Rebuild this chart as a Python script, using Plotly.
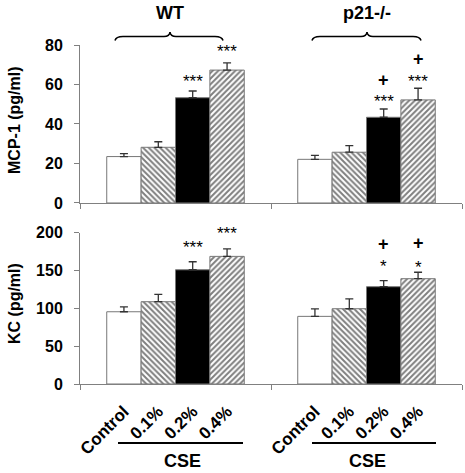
import plotly.graph_objects as go

# ---- data ----
groups = ["WT", "p21-/-"]
conditions = ["Control", "0.1%", "0.2%", "0.4%"]
mcp1_wt = [23.5, 28.2, 53.3, 67.3]
mcp1_wt_err = [1.5, 2.8, 3.4, 3.6]
mcp1_p21 = [22.1, 25.7, 43.4, 52.2]
mcp1_p21_err = [2.0, 3.3, 4.2, 5.9]
kc_wt = [95.5, 108.8, 151.0, 168.7]
kc_wt_err = [6.5, 9.7, 10.6, 10.0]
kc_p21 = [89.4, 99.5, 128.6, 139.2]
kc_p21_err = [10.0, 13.0, 8.0, 8.5]
mcp1_ticks = [0, 20, 40, 60, 80]
kc_ticks = [0, 50, 100, 150, 200]
# significance marks: (panel, group, condition index, text)
marks = [
    (1, 0, 2, "***"), (1, 0, 3, "***"),
    (1, 1, 2, "***"), (1, 1, 2, "+"),
    (1, 1, 3, "***"), (1, 1, 3, "+"),
    (2, 0, 2, "***"), (2, 0, 3, "***"),
    (2, 1, 2, "*"), (2, 1, 2, "+"),
    (2, 1, 3, "*"), (2, 1, 3, "+"),
]
# gap in px between the error-bar cap and each mark (same order as marks)
mark_gaps = [14, 15, 11, 30, 11, 30, 18, 19, 18, 38, 9, 30]

FONT = "Arial, Liberation Sans, sans-serif"
BW = 0.18
EDGE = "#777777"
styles = [
    dict(color="white", pattern=dict(shape="")),
    dict(color="white", pattern=dict(shape="\\", fgcolor="black", bgcolor="white", size=4, solidity=0.5, fillmode="overlay")),
    dict(color="black", pattern=dict(shape="")),
    dict(color="white", pattern=dict(shape="/", fgcolor="black", bgcolor="white", size=4, solidity=0.5, fillmode="overlay")),
]

def pos(g, c):
    return g + (c - 1.5) * BW

fig = go.Figure()
panels = {
    1: ([mcp1_wt, mcp1_p21], [mcp1_wt_err, mcp1_p21_err]),
    2: ([kc_wt, kc_p21], [kc_wt_err, kc_p21_err]),
}
for p, (vals, errs) in panels.items():
    for c, name in enumerate(conditions):
        st = styles[c]
        fig.add_trace(go.Bar(
            x=[pos(g, c) for g in range(len(groups))],
            y=[vals[g][c] for g in range(len(groups))],
            width=BW,
            marker=dict(color=st["color"], pattern=st["pattern"],
                        line=dict(color=EDGE, width=1)),
            error_y=dict(type="data", array=[errs[g][c] for g in range(len(groups))],
                         symmetric=False, arrayminus=[0, 0],
                         color="#333333", thickness=1.3, width=4),
            xaxis="x" if p == 1 else "x2",
            yaxis="y" if p == 1 else "y2",
            showlegend=False, name=name, hoverinfo="skip",
        ))

tickpos = [pos(g, c) for g in range(len(groups)) for c in range(len(conditions))]
ticktext = [c for g in groups for c in conditions]

common_x = dict(range=[-0.5, 1.5], showgrid=False, zeroline=False, showline=True,
                linecolor="#808080", linewidth=1, ticks="", tickvals=tickpos,
                automargin=False, fixedrange=True,
                minor=dict(tickvals=[-0.5, 0.5, 1.5], ticks="outside", ticklen=5,
                           tickcolor="#808080", tickwidth=1))
common_y = dict(showgrid=False, zeroline=False, showline=True, linecolor="#808080",
                linewidth=1, ticks="outside", ticklen=5, tickcolor="#808080",
                automargin=False, fixedrange=True,
                tickfont=dict(family=FONT, size=16, color="black", weight="bold"),
                ticklabelstandoff=8)

TOP_DOM = [0.534, 1.0]
BOT_DOM = [0.0, 0.4463]
fig.update_layout(
    width=465, height=473,
    margin=dict(l=80, r=3, t=45, b=89, autoexpand=False),
    paper_bgcolor="white", plot_bgcolor="white",
    barmode="overlay",
    font=dict(family=FONT, color="black"),
    xaxis=dict(common_x, anchor="y", domain=[0, 1], showticklabels=False),
    yaxis=dict(common_y, domain=TOP_DOM, range=[0, 80], tickvals=mcp1_ticks, anchor="x"),
    xaxis2=dict(common_x, anchor="y2", domain=[0, 1], showticklabels=True,
                ticktext=ticktext, tickangle=-45, ticklabelstandoff=10,
                tickfont=dict(family=FONT, size=17, color="black", weight="bold")),
    yaxis2=dict(common_y, domain=BOT_DOM, range=[0, 200], tickvals=kc_ticks, anchor="x2"),
)

# plot-area pixel helpers (for decorations only)
L, R, T, B = 80, 462, 45, 384
def px(xp):
    return (xp - L) / (R - L)
def py(yp):
    return (B - yp) / (B - T)

annots = []
for (p, g, c, txt), gap in zip(marks, mark_gaps):
    vals, errs = panels[p]
    plus = txt == "+"
    annots.append(dict(
        x=pos(g, c), y=vals[g][c] + errs[g][c],
        xref="x" if p == 1 else "x2", yref="y" if p == 1 else "y2",
        text=txt, showarrow=False, xanchor="center", yanchor="middle",
        yshift=gap - (1 if plus else 4),
        font=dict(family=FONT, size=18 if plus else 17, color="black",
                  weight="bold" if plus else "normal"),
    ))

# group titles and braces
for gname, cx, x0, x1 in [("WT", 170, 115, 223), ("p21-/-", 367, 312, 421)]:
    annots.append(dict(x=px(cx), y=py(13), xref="paper", yref="paper", text=gname,
                       showarrow=False, xanchor="center", yanchor="middle",
                       font=dict(family=FONT, size=18, color="black", weight="bold")))
    pts = [
        ("M", x0, 40.5), ("Q", x0 + 1, 36.5, x0 + 8, 36.5), ("L", cx - 6, 36.5),
        ("Q", cx - 0.5, 36.5, cx, 32), ("Q", cx + 0.5, 36.5, cx + 6, 36.5),
        ("L", x1 - 8, 36.5), ("Q", x1 - 1, 36.5, x1, 40.5),
    ]
    path = ""
    for pt in pts:
        coords = pt[1:]
        s = [f"{px(coords[i]):.5f},{py(coords[i+1]):.5f}" for i in range(0, len(coords), 2)]
        path += pt[0] + " " + " ".join(s) + " "
    fig.add_shape(type="path", path=path.strip(), xref="paper", yref="paper",
                  line=dict(color="black", width=1.6))

# CSE underline and label
for x0, x1, cx in [(118, 243, 182), (312, 436, 367)]:
    fig.add_shape(type="line", x0=px(x0), x1=px(x1), y0=py(443), y1=py(443),
                  xref="paper", yref="paper", line=dict(color="black", width=2))
    annots.append(dict(x=px(cx), y=py(461), xref="paper", yref="paper", text="CSE",
                       showarrow=False, xanchor="center", yanchor="middle",
                       font=dict(family=FONT, size=18, color="black", weight="bold")))

# y-axis titles
for title, cy in [("MCP-1 (pg/ml)", 120), ("KC (pg/ml)", 304)]:
    annots.append(dict(x=px(14), y=py(cy), xref="paper", yref="paper", text=title,
                       textangle=-90, showarrow=False, xanchor="center", yanchor="middle",
                       font=dict(family=FONT, size=16, color="black", weight="bold")))

fig.update_layout(annotations=annots)
fig.write_html("out.html", config={"displayModeBar": False},
               post_script="document.body.style.margin='0px';document.body.style.overflow='hidden';")
